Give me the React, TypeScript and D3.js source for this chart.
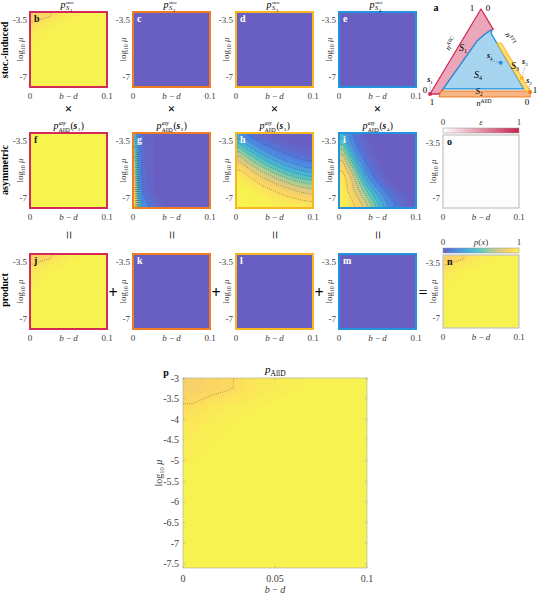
import React from "react"
import * as d3 from "d3"

const W = 538
const H = 597
const FONT = "'Liberation Serif', 'DejaVu Serif', serif"
const TICK = "#404040"

// every heat map: b - d from 0 to 0.1 (x), log10 mu from -3 (top) to -7.6 (y)
const bdDomain = [0, 0.1]
const muDomain = [-7.6, -3]
const smallMuTicks = [-3.5, -7]
const smallBdTicks = [0, 0.1]
const bigMuTicks = [-3, -3.5, -4, -4.5, -5, -5.5, -6, -6.5, -7, -7.5]
const bigBdTicks = [0, 0.05, 0.1]

// grids: first row is log10 mu = -3, first column b - d = 0
// p_AllD (also p^stoc_S1, since p^asy_AllD(s1) = 1)
const gridAllD = [
  [0.84, 0.87, 0.89, 0.93, 0.95, 0.97, 0.98, 0.99, 0.99, 0.99],
  [0.91, 0.94, 0.96, 0.97, 0.98, 0.99, 0.99, 0.99, 0.99, 0.99],
  [0.95, 0.97, 0.98, 0.99, 0.99, 0.99, 0.99, 0.99, 0.99, 0.99],
  [0.97, 0.98, 0.99, 0.99, 0.99, 0.99, 0.99, 0.99, 0.99, 0.99],
  [0.98, 0.99, 0.99, 0.99, 0.99, 0.99, 0.99, 0.99, 0.99, 0.99],
  [0.99, 0.99, 0.99, 0.99, 0.99, 0.99, 0.99, 0.99, 0.99, 0.99],
  [0.99, 0.99, 0.99, 0.99, 0.99, 0.99, 0.99, 0.99, 0.99, 0.99],
  [0.99, 0.99, 0.99, 0.99, 0.99, 0.99, 0.99, 0.99, 0.99, 0.99],
  [0.99, 0.99, 0.99, 0.99, 0.99, 0.99, 0.99, 0.99, 0.99, 0.99],
  [0.99, 0.99, 0.99, 0.99, 0.99, 0.99, 0.99, 0.99, 0.99, 0.99],
]
const gridZero = [[0, 0], [0, 0]]
const gridOne = [[1, 1], [1, 1]]
// p^asy_AllD(s2)
const gridAsyS2 = [
  [0.38, 0.12, 0.05, 0.03, 0.02, 0.02, 0.01, 0.01, 0.01, 0.01, 0.01, 0.01, 0.01, 0.01, 0.01, 0.01, 0.01, 0.01, 0.01, 0.01],
  [0.48, 0.14, 0.05, 0.03, 0.02, 0.02, 0.01, 0.01, 0.01, 0.01, 0.01, 0.01, 0.01, 0.01, 0.01, 0.01, 0.01, 0.01, 0.01, 0.01],
  [0.56, 0.15, 0.06, 0.03, 0.02, 0.02, 0.01, 0.01, 0.01, 0.01, 0.01, 0.01, 0.01, 0.01, 0.01, 0.01, 0.01, 0.01, 0.01, 0.01],
  [0.62, 0.17, 0.06, 0.03, 0.02, 0.02, 0.01, 0.01, 0.01, 0.01, 0.01, 0.01, 0.01, 0.01, 0.01, 0.01, 0.01, 0.01, 0.01, 0.01],
  [0.67, 0.18, 0.07, 0.03, 0.02, 0.02, 0.01, 0.01, 0.01, 0.01, 0.01, 0.01, 0.01, 0.01, 0.01, 0.01, 0.01, 0.01, 0.01, 0.01],
  [0.72, 0.2, 0.07, 0.04, 0.02, 0.02, 0.01, 0.01, 0.01, 0.01, 0.01, 0.01, 0.01, 0.01, 0.01, 0.01, 0.01, 0.01, 0.01, 0.01],
  [0.77, 0.22, 0.08, 0.04, 0.02, 0.02, 0.01, 0.01, 0.01, 0.01, 0.01, 0.01, 0.01, 0.01, 0.01, 0.01, 0.01, 0.01, 0.01, 0.01],
  [0.81, 0.25, 0.09, 0.05, 0.03, 0.02, 0.01, 0.01, 0.01, 0.01, 0.01, 0.01, 0.01, 0.01, 0.01, 0.01, 0.01, 0.01, 0.01, 0.01],
  [0.86, 0.32, 0.13, 0.07, 0.05, 0.03, 0.02, 0.01, 0.01, 0.01, 0.01, 0.01, 0.01, 0.01, 0.01, 0.01, 0.01, 0.01, 0.01, 0.01],
  [0.9, 0.42, 0.2, 0.13, 0.09, 0.06, 0.04, 0.03, 0.02, 0.01, 0.01, 0.01, 0.01, 0.01, 0.01, 0.01, 0.01, 0.01, 0.01, 0.01],
]
// p^asy_AllD(s3)
const gridAsyS3 = [
  [0.25, 0.12, 0.06, 0.04, 0.02, 0.01, 0.01, 0.0, 0.0, 0.0],
  [0.42, 0.28, 0.18, 0.11, 0.07, 0.05, 0.03, 0.02, 0.01, 0.01],
  [0.6, 0.46, 0.34, 0.24, 0.16, 0.11, 0.08, 0.06, 0.04, 0.03],
  [0.76, 0.64, 0.52, 0.41, 0.31, 0.23, 0.17, 0.13, 0.1, 0.08],
  [0.87, 0.79, 0.69, 0.59, 0.49, 0.4, 0.32, 0.26, 0.21, 0.18],
  [0.94, 0.89, 0.82, 0.75, 0.67, 0.59, 0.51, 0.44, 0.39, 0.35],
  [0.97, 0.95, 0.91, 0.86, 0.81, 0.75, 0.69, 0.63, 0.58, 0.55],
  [0.99, 0.98, 0.96, 0.93, 0.9, 0.87, 0.83, 0.79, 0.75, 0.72],
  [1, 0.99, 0.98, 0.97, 0.95, 0.93, 0.91, 0.89, 0.87, 0.85],
  [1, 1, 0.99, 0.99, 0.98, 0.97, 0.96, 0.95, 0.94, 0.93],
]
// p^asy_AllD(s4)
const gridAsyS4 = [
  [0.38, 0.14, 0.05, 0.02, 0.01, 0.01, 0.0, 0.0, 0.0, 0.0],
  [0.5, 0.22, 0.08, 0.03, 0.01, 0.01, 0.0, 0.0, 0.0, 0.0],
  [0.65, 0.35, 0.13, 0.04, 0.02, 0.01, 0.0, 0.0, 0.0, 0.0],
  [0.78, 0.5, 0.22, 0.08, 0.03, 0.01, 0.01, 0.0, 0.0, 0.0],
  [0.87, 0.65, 0.35, 0.13, 0.05, 0.02, 0.01, 0.0, 0.0, 0.0],
  [0.92, 0.78, 0.5, 0.22, 0.09, 0.03, 0.01, 0.01, 0.0, 0.0],
  [0.95, 0.85, 0.62, 0.35, 0.15, 0.06, 0.02, 0.01, 0.0, 0.0],
  [0.96, 0.86, 0.71, 0.5, 0.29, 0.14, 0.06, 0.03, 0.01, 0.0],
  [0.97, 0.9, 0.79, 0.62, 0.42, 0.24, 0.12, 0.06, 0.03, 0.01],
  [0.98, 0.93, 0.86, 0.73, 0.54, 0.34, 0.18, 0.09, 0.04, 0.02],
]

const stocGrids = [gridAllD, gridZero, gridZero, gridZero]
const asyGrids = [gridOne, gridAsyS2, gridAsyS3, gridAsyS4]
const productGrids = [gridAllD, gridZero, gridZero, gridZero]
const epsGrid = gridZero

// ternary diagram, points as [n^AllC, n^TFT]
const regionS1 = [[0, 0], [1, 0], [0.76, 0.24], [0.745, 0.215], [0.7, 0.185], [0.62, 0.15], [0.06, 0.1], [0, 0.09]]
const regionS4 = [[0.06, 0.1], [0.62, 0.15], [0.7, 0.185], [0.745, 0.215], [0.74, 0.235], [0.71, 0.245], [0.06, 0.89]]
const regionS3 = [[0.6, 0.4], [0.03, 0.97], [0.03, 0.925], [0.6, 0.355]]
const regionS2 = [[0.035, 0.09], [0.035, 0.965], [-0.035, 1.0], [-0.035, 0.105]]
const strategies = [[0, 0], [0.024, 0.969], [0.188, 0.806], [0.368, 0.509]]

const edgeColors = ["#d42a58", "#f07d22", "#f8b71c", "#2393de"]
const parulaStops = ["#6b5cbf", "#4c82e2", "#4f9fe0", "#46b9d6", "#64c8b9", "#a6cf98", "#dcca80", "#fdd463", "#f8f54f"]
const parula = d3.scaleLinear<string>()
  .domain(d3.range(0, 1.0001, 0.125))
  .range(parulaStops)
  .interpolate(d3.interpolateRgb)
  .clamp(true)
const epsColor = d3.scaleLinear<string>().domain([0, 1]).range(["#ffffff", "#c8244f"])

const fillLevels = d3.range(0, 1.0001, 0.02)
const lineLevels = [0.1, 0.2, 0.3, 0.4, 0.5, 0.6, 0.7, 0.8, 0.9]

// layout
const colX = [30, 133, 236, 339]
const rowY = [12, 133, 254]
const PW = 77
const PH = 75

// repeat the outer rows/columns so contour rings close outside the axes box
function padEdges(grid) {
  const rows = grid.map(r => [r[0], ...r, r[r.length - 1]])
  return [rows[0], ...rows, rows[rows.length - 1]]
}

function HeatMap({ x, y, w, h, grid, color, id, lines = true }) {
  const padded = padEdges(grid)
  const ny = padded.length
  const nx = padded[0].length
  const gx = d3.scaleLinear().domain([1, nx - 1]).range([x, x + w])
  const gy = d3.scaleLinear().domain([1, ny - 1]).range([y, y + h])
  const path = d3.geoPath(d3.geoTransform({
    point: function (px, py) { this.stream.point(gx(px), gy(py)) }
  }))
  const values = padded.flat()
  const bands = d3.contours().size([nx, ny]).thresholds(fillLevels)(values)
  const isos = d3.contours().size([nx, ny]).thresholds(lineLevels)(values)
  return (
    <g>
      <clipPath id={id}><rect x={x} y={y} width={w} height={h} /></clipPath>
      <g clipPath={`url(#${id})`}>
        <rect x={x} y={y} width={w} height={h} fill={color(d3.min(values))} />
        {bands.map((b, i) => (
          <path key={i} d={path(b) || ""} fill={color(Math.min(1, b.value + 0.01))} />
        ))}
        {lines && isos.map((b, i) => (
          <path key={`l${i}`} d={path(b) || ""} fill="none" stroke="#2a2a2a" strokeOpacity={0.75}
            strokeWidth={0.7} strokeDasharray="0.7 1.5" />
        ))}
      </g>
    </g>
  )
}

function LogMu({ x, y, size = 9 }) {
  return (
    <text transform={`translate(${x},${y}) rotate(-90)`} textAnchor="middle" fontSize={size} fill={TICK}>
      log<tspan fontSize={size * 0.65} dy={2}>10</tspan>
      <tspan dy={-2} fontStyle="italic">{" μ"}</tspan>
    </text>
  )
}

function BMinusD({ x, y, size = 9 }) {
  return (
    <text x={x} y={y} textAnchor="middle" fontSize={size} fill={TICK}>
      <tspan fontStyle="italic">b</tspan>{" − "}<tspan fontStyle="italic">d</tspan>
    </text>
  )
}

function SmallPanel({ x, y, w = PW, h = PH, grid, color = parula, edge, edgeWidth = 2, letter, letterFill, id }) {
  const sx = d3.scaleLinear().domain(bdDomain).range([x, x + w])
  const sy = d3.scaleLinear().domain(muDomain).range([y + h, y])
  return (
    <g>
      <HeatMap x={x} y={y} w={w} h={h} grid={grid} color={color} id={id} />
      <rect x={x} y={y} width={w} height={h} fill="none" stroke={edge} strokeWidth={edgeWidth} />
      <text x={x + 4} y={y + 10} fontWeight="bold" fontSize={10} fill={letterFill}>{letter}</text>
      {smallMuTicks.map(t => (
        <text key={t} x={x - 3} y={sy(t)} textAnchor="end" dominantBaseline="central" fontSize={9} fill={TICK}>{t}</text>
      ))}
      {smallBdTicks.map(t => (
        <text key={t} x={sx(t)} y={y + h + 12} textAnchor="middle" fontSize={9} fill={TICK}>{t}</text>
      ))}
      <BMinusD x={sx(0.05)} y={y + h + 12} />
      <LogMu x={x - 7} y={y + h / 2} />
    </g>
  )
}

function StocTitle({ cx, y, k }) {
  return (
    <g transform={`translate(${cx - 8},${y})`}>
      <text fontStyle="italic" fontSize={10}>p</text>
      <text x={5.2} y={-3.6} fontStyle="italic" fontSize={5}>stoc</text>
      <text x={5.5} y={2.3} fontStyle="italic" fontSize={6.5}>S</text>
      <text x={9.5} y={3.6} fontSize={4.5}>{k}</text>
    </g>
  )
}

function AsyTitle({ cx, y, k }) {
  return (
    <g transform={`translate(${cx - 15},${y})`}>
      <text fontStyle="italic" fontSize={10}>p</text>
      <text x={5.2} y={-4.3} fontStyle="italic" fontSize={5.5}>asy</text>
      <text x={5.2} y={2.5} fontSize={5.5}>AllD</text>
      <text x={17} fontSize={9.5}>(</text>
      <text x={20} fontSize={9.5} fontWeight="bold" fontStyle="italic">s</text>
      <text x={24.3} y={2} fontSize={5}>{k}</text>
      <text x={27.3} fontSize={9.5}>)</text>
    </g>
  )
}

const triApex = [481, 9]
const triLeft = [430, 94]
const triRight = [532, 94]
function tern([a, t]) {
  const d = 1 - a - t
  return [a * triApex[0] + t * triRight[0] + d * triLeft[0], a * triApex[1] + t * triRight[1] + d * triLeft[1]]
}
const polygon = d3.line().curve(d3.curveLinearClosed)

function SLabel({ x, y, k, size = 9, bold = true }) {
  return (
    <text x={x} y={y} textAnchor="middle" fontSize={size}>
      <tspan fontStyle="italic" fontWeight={bold ? "bold" : "normal"}>{bold ? "s" : "S"}</tspan>
      <tspan fontSize={size * 0.6} dy={2}>{k}</tspan>
    </text>
  )
}

function Ternary() {
  const labelOffsets = [[0, -12], [-1, -9], [3, -14], [-11, -5]]
  return (
    <g>
      <text x={436} y={11} fontWeight="bold" fontSize={10} textAnchor="middle">a</text>
      <path d={polygon(regionS1.map(tern))} fill="#eaa7b9" stroke={edgeColors[0]} strokeWidth={1.3} strokeLinejoin="round" />
      <path d={polygon(regionS4.map(tern))} fill="#a7d4ef" stroke={edgeColors[3]} strokeWidth={1.3} strokeLinejoin="round" />
      <path d={polygon(regionS2.map(tern))} fill="#f9b585" stroke={edgeColors[1]} strokeWidth={1} />
      <path d={polygon(regionS3.map(tern))} fill="#fcdc78" stroke={edgeColors[2]} strokeWidth={1} />
      {strategies.map((s, i) => {
        const [px, py] = tern(s)
        const [ox, oy] = labelOffsets[i]
        return (
          <g key={i}>
            <line x1={px + ox * 0.9} y1={py + oy + 3} x2={px} y2={py} stroke="#555" strokeWidth={0.6} strokeDasharray="0.8 1" />
            <circle cx={px} cy={py} r={2} fill={edgeColors[i]} />
            <SLabel x={px + ox} y={py + oy} k={i + 1} size={8} />
          </g>
        )
      })}
      <SLabel x={463} y={51} k={1} size={10} bold={false} />
      <SLabel x={479} y={94} k={2} size={9} bold={false} />
      <SLabel x={515} y={69} k={3} size={10} bold={false} />
      <SLabel x={478} y={78} k={4} size={10} bold={false} />
      <g fontSize={9}>
        <text x={472} y={11} textAnchor="middle">1</text>
        <text x={488} y={11} textAnchor="middle">0</text>
        <text x={425} y={93} textAnchor="middle">0</text>
        <text x={432} y={105} textAnchor="middle">1</text>
        <text x={535} y={93} textAnchor="middle">1</text>
        <text x={527} y={105} textAnchor="middle">0</text>
      </g>
      <text transform="translate(453,45) rotate(-59)" textAnchor="middle" fontSize={8}>
        <tspan fontStyle="italic">n</tspan><tspan fontSize={5} dy={-3}>AllC</tspan>
      </text>
      <text transform="translate(508,40) rotate(59)" textAnchor="middle" fontSize={8}>
        <tspan fontStyle="italic">n</tspan><tspan fontSize={5} dy={-3}>TFT</tspan>
      </text>
      <text x={484} y={106} textAnchor="middle" fontSize={8}>
        <tspan fontStyle="italic">n</tspan><tspan fontSize={5.5} dy={-3}>AllD</tspan>
      </text>
    </g>
  )
}

function BigPanel() {
  const bx = 183, by = 378, bw = 184, bh = 190
  const sx = d3.scaleLinear().domain(bdDomain).range([bx, bx + bw])
  const sy = d3.scaleLinear().domain(muDomain).range([by + bh, by])
  return (
    <g>
      <HeatMap x={bx} y={by} w={bw} h={bh} grid={gridAllD} color={parula} id="clipP" />
      <rect x={bx} y={by} width={bw} height={bh} fill="none" stroke="#a8a8a8" strokeWidth={0.6} />
      {bigMuTicks.map(t => (
        <g key={t}>
          <line x1={bx} x2={bx + 2} y1={sy(t)} y2={sy(t)} stroke="#999" strokeWidth={0.5} />
          <line x1={bx + bw - 2} x2={bx + bw} y1={sy(t)} y2={sy(t)} stroke="#999" strokeWidth={0.5} />
          <text x={bx - 4} y={sy(t)} textAnchor="end" dominantBaseline="central" fontSize={10} fill={TICK}>{t}</text>
        </g>
      ))}
      {bigBdTicks.map(t => (
        <g key={t}>
          <line x1={sx(t)} x2={sx(t)} y1={by + bh} y2={by + bh - 2} stroke="#999" strokeWidth={0.5} />
          <line x1={sx(t)} x2={sx(t)} y1={by} y2={by + 2} stroke="#999" strokeWidth={0.5} />
          <text x={sx(t)} y={by + bh + 14} textAnchor="middle" fontSize={10} fill={TICK}>{t}</text>
        </g>
      ))}
      <BMinusD x={sx(0.05)} y={by + bh + 25} size={10} />
      <LogMu x={162} y={(by + by + bh) / 2} size={10} />
      <g transform={`translate(${sx(0.05) - 10},${by - 5})`}>
        <text fontStyle="italic" fontSize={11}>p</text>
        <text x={5.6} y={3} fontSize={7.5}>AllD</text>
      </g>
      <text x={166} y={376} fontWeight="bold" fontSize={10} textAnchor="middle">p</text>
    </g>
  )
}

export default function App() {
  const letters = [["b", "c", "d", "e"], ["f", "g", "h", "i"], ["j", "k", "l", "m"]]
  const rows = [stocGrids, asyGrids, productGrids]
  const dark = [false, true, true, true]
  const rowNames = [["stoc.-induced", 50], ["asymmetric", 170], ["product", 290]]
  return (
    <svg width={W} height={H} viewBox={`0 0 ${W} ${H}`} fontFamily={FONT}
      style={{ position: "absolute", left: 0, top: 0, background: "#fff" }}>
      <defs>
        <linearGradient id="parulaGrad" x1="0" x2="1" y1="0" y2="0">
          {d3.range(0, 1.0001, 0.1).map(t => <stop key={t} offset={t} stopColor={parula(t)} />)}
        </linearGradient>
        <linearGradient id="epsGrad" x1="0" x2="1" y1="0" y2="0">
          {d3.range(0, 1.0001, 0.25).map(t => <stop key={t} offset={t} stopColor={epsColor(t)} />)}
        </linearGradient>
      </defs>

      {rowNames.map(([name, cy]) => (
        <text key={name} transform={`translate(8,${cy}) rotate(-90)`} textAnchor="middle"
          fontWeight="bold" fontSize={10}>{name}</text>
      ))}

      {rows.map((grids, r) => grids.map((g, c) => (
        <SmallPanel key={`${r}-${c}`} x={colX[c]} y={rowY[r]} grid={g} edge={edgeColors[c]}
          letter={letters[r][c]} letterFill={dark[c] ? "#fff" : "#111"} id={`clip${r}${c}`} />
      )))}

      {colX.map((x, c) => (
        <g key={c}>
          <StocTitle cx={x + PW / 2} y={8} k={c + 1} />
          <AsyTitle cx={x + PW / 2} y={129} k={c + 1} />
          <text x={x + PW / 2} y={108} textAnchor="middle" dominantBaseline="central" fontSize={13} fontWeight="bold">×</text>
          <text transform={`translate(${x + PW / 2},235) rotate(90)`} textAnchor="middle" dominantBaseline="central" fontSize={15}>=</text>
        </g>
      ))}
      {[113, 216, 319].map(x => (
        <text key={x} x={x} y={292} textAnchor="middle" dominantBaseline="central" fontSize={16} fontWeight="bold">+</text>
      ))}
      <text x={423} y={292} textAnchor="middle" dominantBaseline="central" fontSize={16}>=</text>

      {/* epsilon panel o */}
      <rect x={443} y={128} width={76} height={5} fill="url(#epsGrad)" stroke="#999" strokeWidth={0.5} />
      <text x={443} y={125} textAnchor="middle" fontSize={9} fill={TICK}>0</text>
      <text x={481} y={125} textAnchor="middle" fontSize={9} fontStyle="italic" fill={TICK}>ε</text>
      <text x={519} y={125} textAnchor="middle" fontSize={9} fill={TICK}>1</text>
      <SmallPanel x={443} y={135} w={76} h={73} grid={epsGrid} color={epsColor} edge="#c4c4c4" edgeWidth={1.2}
        letter="o" letterFill="#111" id="clipO" />

      {/* product sum panel n */}
      <rect x={443} y={248} width={76} height={5} fill="url(#parulaGrad)" stroke="#999" strokeWidth={0.5} />
      <text x={443} y={245} textAnchor="middle" fontSize={9} fill={TICK}>0</text>
      <text x={481} y={245} textAnchor="middle" fontSize={9} fill={TICK}>
        <tspan fontStyle="italic">p</tspan>(<tspan fontStyle="italic">x</tspan>)
      </text>
      <text x={519} y={245} textAnchor="middle" fontSize={9} fill={TICK}>1</text>
      <SmallPanel x={443} y={255} w={76} h={73} grid={gridAllD} color={parula} edge="#c4c4c4" edgeWidth={1.2}
        letter="n" letterFill="#111" id="clipN" />

      <Ternary />
      <BigPanel />
    </svg>
  )
}
